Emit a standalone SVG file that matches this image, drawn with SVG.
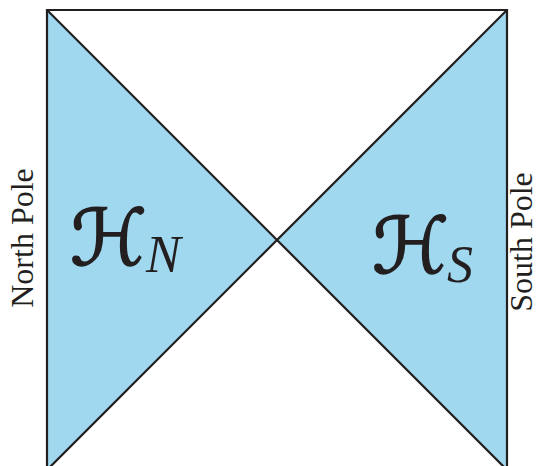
<svg xmlns="http://www.w3.org/2000/svg" width="539" height="466" viewBox="0 0 539 466">
<style>
.fill{fill:#a0d8ef;stroke:none}
.ln{stroke:#231f20;stroke-width:2.2;fill:none}
.lbl{font-family:"Liberation Serif",serif;font-size:32px;fill:#231f20;text-anchor:middle}
.cal{font-family:"DejaVu Sans",serif;font-size:78px;fill:#231f20;stroke:#231f20;stroke-width:1.5}
.sub{font-family:"Liberation Serif",serif;font-style:italic;font-size:52px;fill:#231f20}
</style>
<rect width="539" height="466" fill="#fff"/>
<g id="HN">
<polygon class="fill" points="47,10 277,240 47,470"/>
<text class="cal" x="70" y="265">ℋ</text>
<text class="sub" x="146" y="272">N</text>
</g>
<g id="HS">
<polygon class="fill" points="507,10 277,240 507,470"/>
<text class="cal" x="372" y="273">ℋ</text>
<text class="sub" x="447" y="282">S</text>
</g>
<g id="connectors">
<line class="ln" x1="47" y1="10" x2="507" y2="10"/>
<line class="ln" x1="47" y1="9" x2="47" y2="470"/>
<line class="ln" x1="507" y1="9" x2="507" y2="470"/>
<line class="ln" x1="47" y1="10" x2="507" y2="470"/>
<line class="ln" x1="507" y1="10" x2="47" y2="470"/>
</g>
<g id="north">
<text class="lbl" transform="translate(33,238) rotate(-90)">North Pole</text>
</g>
<g id="south">
<text class="lbl" transform="translate(532,242) rotate(-90)">South Pole</text>
</g>
</svg>
